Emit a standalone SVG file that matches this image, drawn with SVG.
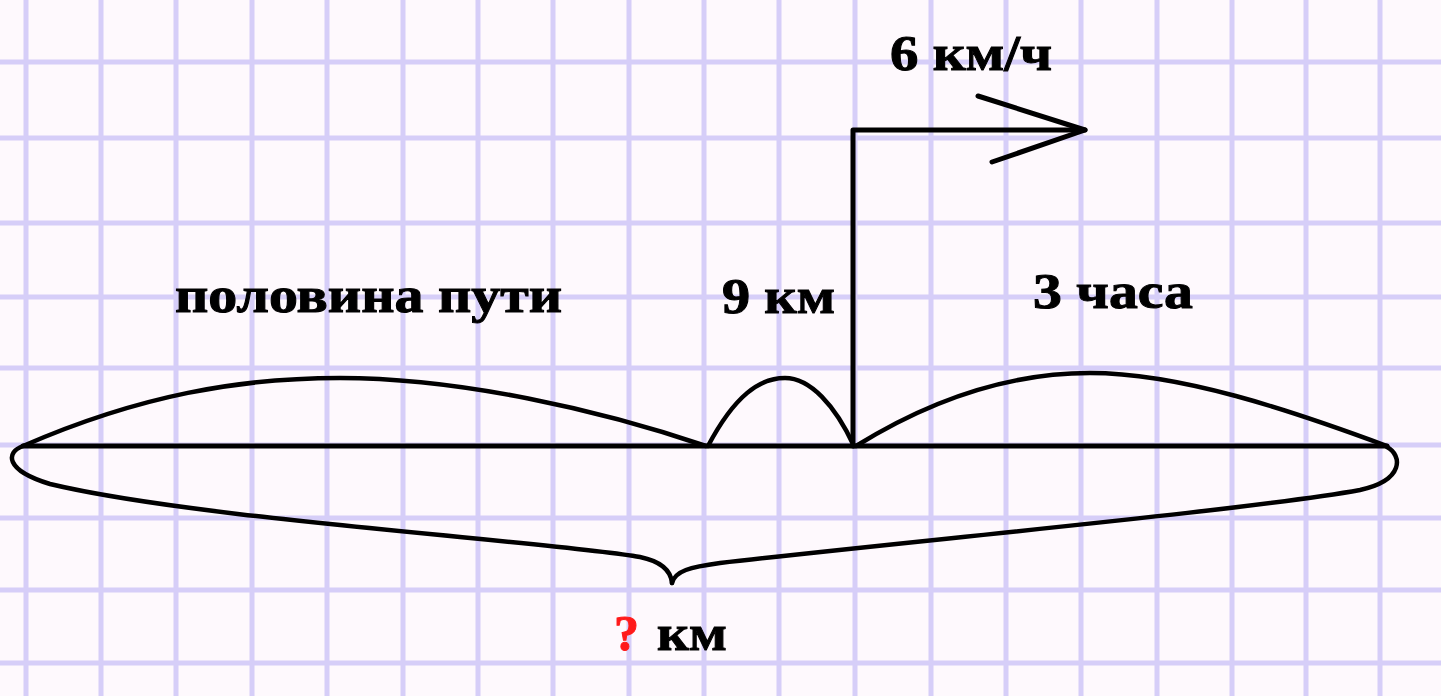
<svg xmlns="http://www.w3.org/2000/svg" width="1441" height="696" viewBox="0 0 1441 696">
<style>
.grid line{stroke:#d6cef8;stroke-width:5}
.ink{fill:none;stroke:#000;stroke-width:5;stroke-linecap:round;stroke-linejoin:round}
.thin{fill:none;stroke:#000;stroke-width:4.5;stroke-linecap:round;stroke-linejoin:round}
text{font-family:"Liberation Serif","Times New Roman",serif;font-weight:bold;font-size:50px;fill:#000;stroke:#000;stroke-width:1}
.q{fill:#ff1a1a;stroke:#ff1a1a}
</style>
<rect width="1441" height="696" fill="#fef9fd"/>
<g class="grid" id="grid">
<line x1="26" y1="0" x2="26" y2="696"/>
<line x1="101" y1="0" x2="101" y2="696"/>
<line x1="176" y1="0" x2="176" y2="696"/>
<line x1="252" y1="0" x2="252" y2="696"/>
<line x1="327" y1="0" x2="327" y2="696"/>
<line x1="403" y1="0" x2="403" y2="696"/>
<line x1="478" y1="0" x2="478" y2="696"/>
<line x1="553" y1="0" x2="553" y2="696"/>
<line x1="629" y1="0" x2="629" y2="696"/>
<line x1="704" y1="0" x2="704" y2="696"/>
<line x1="779" y1="0" x2="779" y2="696"/>
<line x1="855" y1="0" x2="855" y2="696"/>
<line x1="931" y1="0" x2="931" y2="696"/>
<line x1="1006" y1="0" x2="1006" y2="696"/>
<line x1="1081" y1="0" x2="1081" y2="696"/>
<line x1="1157" y1="0" x2="1157" y2="696"/>
<line x1="1232" y1="0" x2="1232" y2="696"/>
<line x1="1306" y1="0" x2="1306" y2="696"/>
<line x1="1380" y1="0" x2="1380" y2="696"/>
<line x1="0" y1="62" x2="1441" y2="62"/>
<line x1="0" y1="138" x2="1441" y2="138"/>
<line x1="0" y1="223" x2="1441" y2="223"/>
<line x1="0" y1="297" x2="1441" y2="297"/>
<line x1="0" y1="368" x2="1441" y2="368"/>
<line x1="0" y1="445" x2="1441" y2="445"/>
<line x1="0" y1="518" x2="1441" y2="518"/>
<line x1="0" y1="590" x2="1441" y2="590"/>
<line x1="0" y1="663" x2="1441" y2="663"/>
</g>
<g id="connectors">
<line class="ink" x1="23" y1="446" x2="1387" y2="446"/>
<path class="thin" d="M23,446 C140,395 240,378 340,378 C460,378 600,410 706,446"/>
<path class="thin" d="M708,446 C735,395 760,378 785,378 C810,378 835,405 854,446"/>
<path class="thin" d="M856,446 C930,400 1010,373 1090,373 C1180,373 1290,410 1387,446"/>
<path class="thin" d="M23,446 C6,452 4,470 50,484 C200,520 560,542 640,557 C664,562 671,572 672,583"/>
<path class="thin" d="M672,583 C675,571 690,567 720,563 C900,542 1250,510 1360,490 C1405,480 1402,455 1387,447"/>
<path class="ink" d="M853,446 L853,130 L1085,130"/>
<path class="ink" d="M978,96 L1085,130 L992,162"/>
</g>
<g id="label-half"><text x="175" y="312" textLength="387" lengthAdjust="spacingAndGlyphs">половина пути</text></g>
<g id="label-9km"><text x="722" y="313" textLength="113" lengthAdjust="spacingAndGlyphs">9 км</text></g>
<g id="label-3h"><text x="1033" y="308" textLength="160" lengthAdjust="spacingAndGlyphs">3 часа</text></g>
<g id="label-speed"><text x="890" y="70" textLength="162" lengthAdjust="spacingAndGlyphs">6 км/ч</text></g>
<g id="label-total"><text x="614" y="650" font-size="54"><tspan class="q">?</tspan></text><text x="657" y="650" textLength="70" lengthAdjust="spacingAndGlyphs">км</text></g>
</svg>
